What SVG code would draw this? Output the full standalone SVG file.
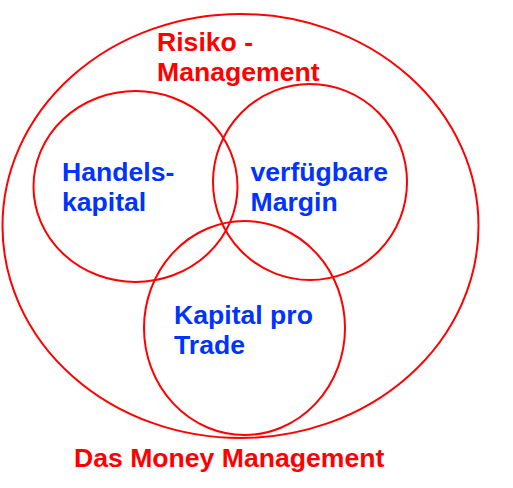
<svg xmlns="http://www.w3.org/2000/svg" width="513" height="488" viewBox="0 0 513 488">
<style>
.c{fill:none;stroke:#ff0000;stroke-width:2}
.t{font-family:"Liberation Sans",Arial,sans-serif;font-weight:bold;font-size:26.6px}
.r{fill:#ff0000}
.b{fill:#0033ff}
</style>
<rect width="513" height="488" fill="#ffffff"/>
<g id="money-management">
<ellipse class="c" cx="240.5" cy="226" rx="238" ry="212"/>
<text class="t r" x="74" y="466.5">Das Money Management</text>
</g>
<g id="risiko-management">
<text class="t r" x="157" y="51">Risiko -</text>
<text class="t r" x="157" y="81">Management</text>
</g>
<g id="handelskapital">
<ellipse class="c" cx="135.5" cy="186.5" rx="102" ry="95.5"/>
<text class="t b" x="62" y="181">Handels-</text>
<text class="t b" x="62" y="211">kapital</text>
</g>
<g id="margin">
<ellipse class="c" cx="310" cy="182" rx="97" ry="98"/>
<text class="t b" x="250.5" y="181">verfügbare</text>
<text class="t b" x="250.5" y="211">Margin</text>
</g>
<g id="kapital-pro-trade">
<ellipse class="c" cx="244.5" cy="328" rx="100.5" ry="107"/>
<text class="t b" x="174" y="324">Kapital pro</text>
<text class="t b" x="174" y="354">Trade</text>
</g>
<g id="connectors"></g>
</svg>
